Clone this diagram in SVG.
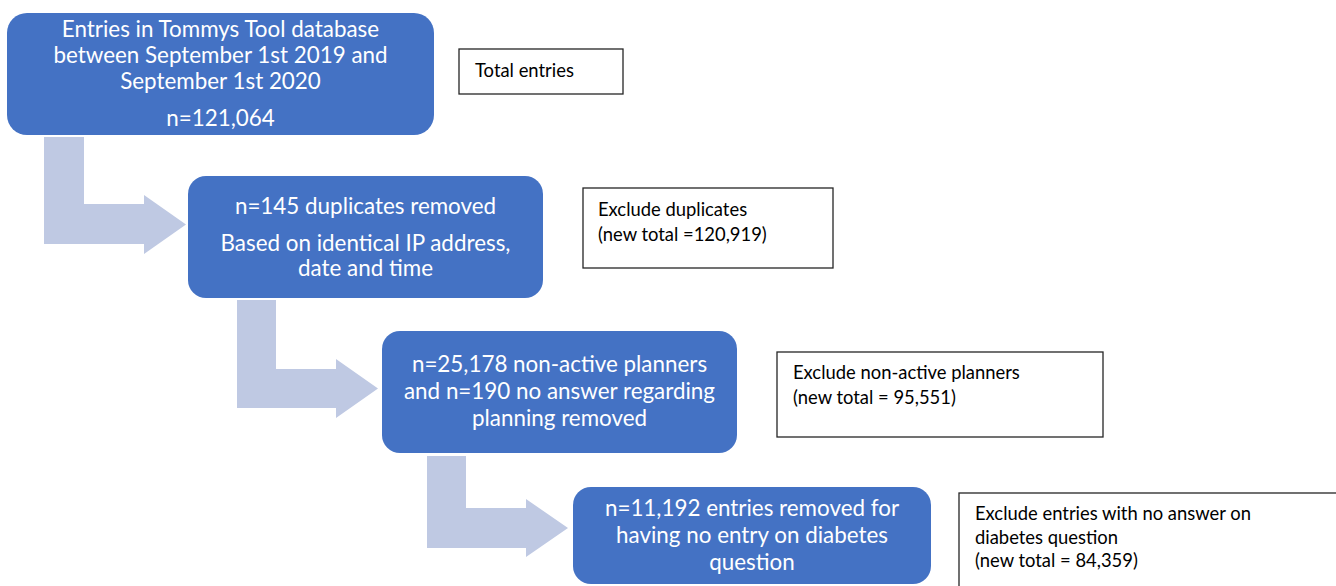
<svg xmlns="http://www.w3.org/2000/svg" width="1336" height="586" viewBox="0 0 1336 586">
<style>
.node{fill:#4472C4}
.nt{font-family:Lato,"Liberation Sans",sans-serif;font-size:22.4px;fill:#ffffff;text-anchor:middle}
.note{fill:#ffffff;stroke:#262626;stroke-width:1.3}
.tt{font-family:Lato,"Liberation Sans",sans-serif;font-size:18.4px;fill:#000000}
.arr{fill:#BFC9E3}
</style>
<rect width="1336" height="586" fill="#ffffff"/>
<g id="connectors">
<polygon class="arr" points="44,137 84,137 84,204 144,204 144,195 186,224.5 144,254 144,244 44,244"/>
<polygon class="arr" points="237,300 276,300 276,369 336,369 336,359 378,388.5 336,418 336,408 237,408"/>
<polygon class="arr" points="427,456 466,456 466,508 526,508 526,499 568,528 526,557 526,548 427,548"/>
</g>
<g id="node1">
<rect class="node" x="7" y="13" width="427" height="122" rx="20"/>
<text class="nt" x="220.5" y="37">Entries in Tommys Tool database</text>
<text class="nt" x="220.5" y="63">between September 1st 2019 and</text>
<text class="nt" x="220.5" y="89">September 1st 2020</text>
<text class="nt" x="220.5" y="126">n=121,064</text>
</g>
<g id="note1">
<rect class="note" x="459" y="49" width="164" height="45"/>
<text class="tt" x="475" y="77">Total entries</text>
</g>
<g id="node2">
<rect class="node" x="188" y="176" width="355" height="122" rx="18"/>
<text class="nt" x="365.5" y="214">n=145 duplicates removed</text>
<text class="nt" x="365.5" y="251">Based on identical IP address,</text>
<text class="nt" x="365.5" y="276">date and time</text>
</g>
<g id="note2">
<rect class="note" x="583" y="188" width="250" height="80"/>
<text class="tt" x="598" y="216">Exclude duplicates</text>
<text class="tt" x="598" y="241">(new total =120,919)</text>
</g>
<g id="node3">
<rect class="node" x="382" y="331" width="355" height="122" rx="18"/>
<text class="nt" x="559.5" y="372">n=25,178 non-active planners</text>
<text class="nt" x="559.5" y="399">and n=190 no answer regarding</text>
<text class="nt" x="559.5" y="426">planning removed</text>
</g>
<g id="note3">
<rect class="note" x="777" y="352" width="326" height="85"/>
<text class="tt" x="793" y="379">Exclude non-active planners</text>
<text class="tt" x="793" y="404">(new total = 95,551)</text>
</g>
<g id="node4">
<rect class="node" x="573" y="487" width="358" height="97" rx="18"/>
<text class="nt" x="752" y="516">n=11,192 entries removed for</text>
<text class="nt" x="752" y="543">having no entry on diabetes</text>
<text class="nt" x="752" y="570">question</text>
</g>
<g id="note4">
<rect class="note" x="959" y="493" width="390" height="110"/>
<text class="tt" x="975" y="520">Exclude entries with no answer on</text>
<text class="tt" x="975" y="544">diabetes question</text>
<text class="tt" x="975" y="567">(new total = 84,359)</text>
</g>
</svg>
